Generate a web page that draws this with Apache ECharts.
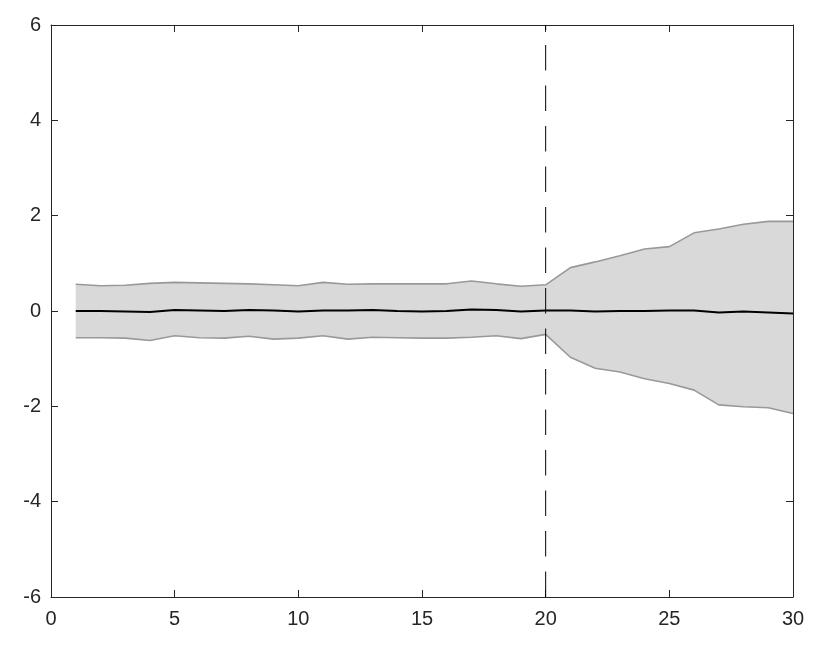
<!DOCTYPE html>
<html>
<head>
<meta charset="utf-8">
<script src="https://cdn.jsdelivr.net/npm/echarts@6/dist/echarts.min.js"></script>
<style>html,body{margin:0;padding:0;background:#fff}#c{width:830px;height:648px}</style>
</head>
<body>
<div id="c"></div>
<script>
var steps = [1,2,3,4,5,6,7,8,9,10,11,12,13,14,15,16,17,18,19,20,21,22,23,24,25,26,27,28,29,30];
var upper = [0.56,0.53,0.54,0.58,0.60,0.59,0.58,0.57,0.55,0.53,0.60,0.56,0.57,0.57,0.57,0.57,0.63,0.57,0.52,0.55,0.91,1.03,1.16,1.30,1.35,1.64,1.72,1.82,1.88,1.88];
var lower = [-0.56,-0.56,-0.57,-0.62,-0.52,-0.56,-0.57,-0.53,-0.59,-0.57,-0.52,-0.59,-0.55,-0.56,-0.57,-0.57,-0.55,-0.52,-0.58,-0.49,-0.97,-1.20,-1.28,-1.42,-1.52,-1.66,-1.97,-2.01,-2.03,-2.15];
var middle = [0.00,0.00,-0.01,-0.02,0.02,0.01,0.00,0.02,0.01,-0.01,0.01,0.01,0.02,0.00,-0.01,0.00,0.03,0.02,-0.01,0.01,0.01,-0.01,0.00,0.00,0.01,0.01,-0.03,-0.01,-0.03,-0.05];
var breakX = 20;

function pairs(ys){ return steps.map(function(x,i){ return [x, ys[i]]; }); }
var bandData = steps.map(function(x,i){ return [x, lower[i], upper[i]]; });

var axisCol = '#262626';
var labelStyle = {color: axisCol, fontSize: 20, fontFamily: 'Liberation Sans, Arial, sans-serif'};
function axisCommon(){
  return {
    axisLine: {show: true, onZero: false, lineStyle: {color: axisCol, width: 1}},
    axisTick: {show: true, inside: true, length: 7, lineStyle: {color: axisCol}},
    splitLine: {show: false}
  };
}
var chart = echarts.init(document.getElementById('c'));
chart.setOption({
  animation: false,
  backgroundColor: '#ffffff',
  grid: {left: 51, right: 37, top: 25, bottom: 51},
  xAxis: [
    Object.assign({type: 'value', min: 0, max: 30, interval: 5, position: 'bottom',
      axisLabel: Object.assign({margin: 12}, labelStyle)}, axisCommon()),
    Object.assign({type: 'value', min: 0, max: 30, interval: 5, position: 'top',
      axisLabel: {show: false}}, axisCommon())
  ],
  yAxis: [
    Object.assign({type: 'value', min: -6, max: 6, interval: 2, position: 'left',
      axisLabel: Object.assign({margin: 10}, labelStyle)}, axisCommon()),
    Object.assign({type: 'value', min: -6, max: 6, interval: 2, position: 'right',
      axisLabel: {show: false}}, axisCommon())
  ],
  series: [
    {type: 'custom', data: bandData, silent: true, encode: {x: 0, y: [1, 2]},
     renderItem: function(params, api){
       if (params.dataIndex !== 0) return null;
       var pts = [];
       for (var i = 0; i < bandData.length; i++) pts.push(api.coord([bandData[i][0], bandData[i][2]]));
       for (var j = bandData.length - 1; j >= 0; j--) pts.push(api.coord([bandData[j][0], bandData[j][1]]));
       return {type: 'polygon', shape: {points: pts}, style: {fill: '#d9d9d9', stroke: null}};
     }},
    {type: 'line', data: pairs(upper), symbol: 'none', lineStyle: {color: '#999999', width: 1.6}},
    {type: 'line', data: pairs(lower), symbol: 'none', lineStyle: {color: '#999999', width: 1.6}},
    {type: 'line', data: pairs(middle), symbol: 'none', lineStyle: {color: '#000000', width: 2}},
    {type: 'line', data: [[breakX, -6],[breakX, 6]], symbol: 'none',
     lineStyle: {color: '#000000', width: 1, type: [25.5, 15]}}
  ]
});
</script>
</body>
</html>
